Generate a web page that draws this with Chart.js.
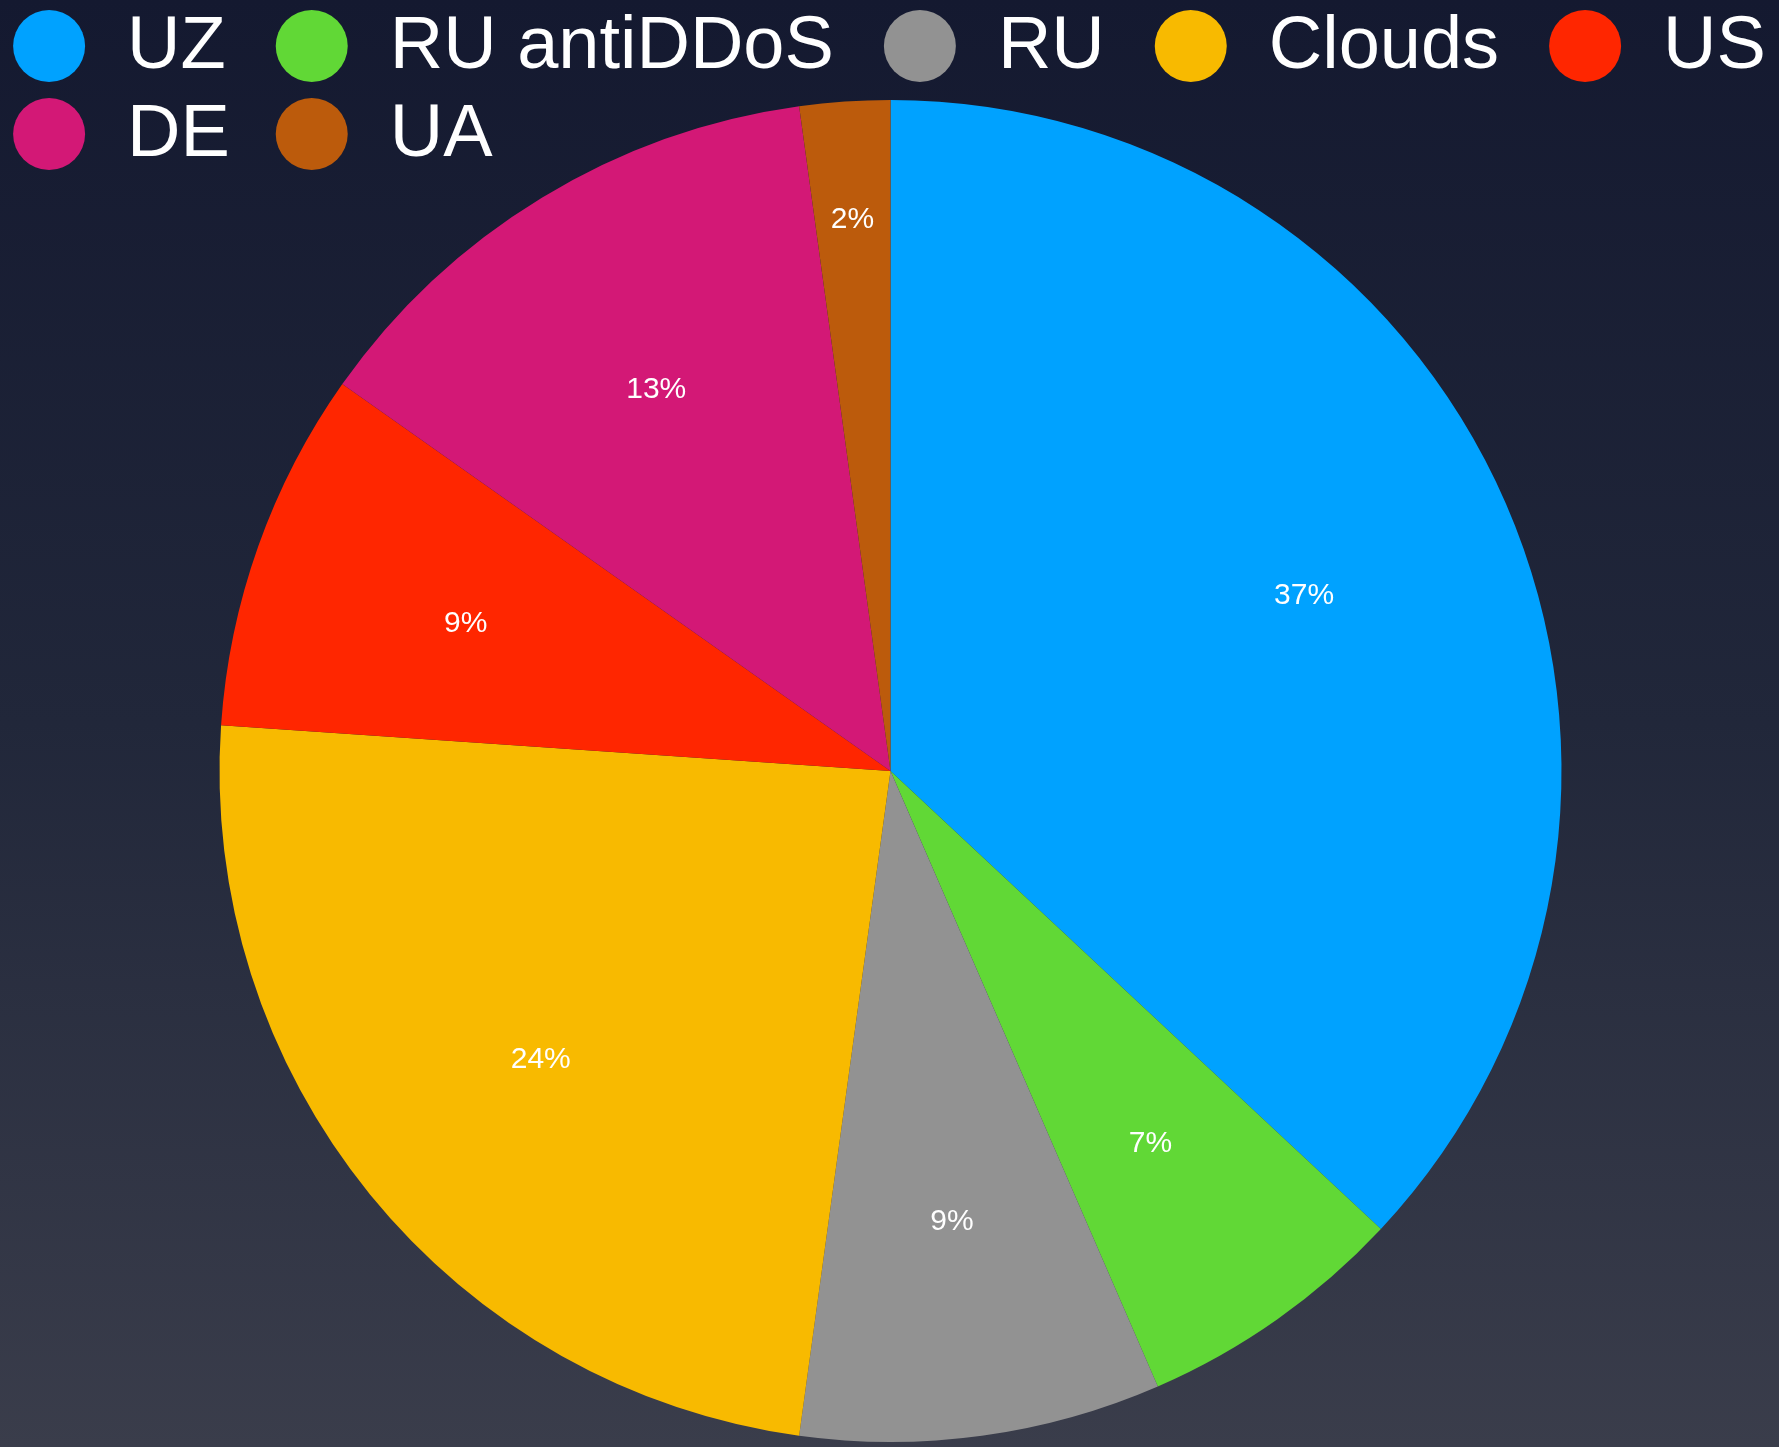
<!DOCTYPE html>
<html>
<head>
<meta charset="utf-8">
<title>Hosting locations</title>
<script src="https://cdn.jsdelivr.net/npm/chart.js@4"></script>
<style>
  html, body { margin: 0; padding: 0; background: #141930; }
  canvas { display: block; }
</style>
</head>
<body>
<canvas id="pie" width="1779" height="1447"></canvas>
<script>
// Where the sites are hosted (number of sites per location)
const categories = ['UZ', 'RU antiDDoS', 'RU', 'Clouds', 'US', 'DE', 'UA'];
const siteCounts = [17, 3, 4, 11, 4, 6, 1];
const sliceColors = ['#00a2ff', '#61d836', '#929292', '#f8ba00', '#ff2600', '#d31876', '#bc5b0c'];
const legendRows = [['UZ', 'RU antiDDoS', 'RU', 'Clouds', 'US'], ['DE', 'UA']];

const FONT = '"Liberation Sans", Arial, Helvetica, sans-serif';

// Dark vertical gradient behind everything
const backdrop = {
  id: 'backdrop',
  beforeDraw(chart) {
    const { ctx, width, height } = chart;
    const g = ctx.createLinearGradient(0, 0, 0, height);
    g.addColorStop(0, '#141930');
    g.addColorStop(0.5, '#21273a');
    g.addColorStop(1, '#3a3d4b');
    ctx.save();
    ctx.fillStyle = g;
    ctx.fillRect(0, 0, width, height);
    ctx.restore();
  }
};

// Legend: round swatches with large labels; the second row reuses the first row's columns
const bigLegend = {
  id: 'bigLegend',
  afterDraw(chart) {
    const { ctx, width } = chart;
    const fontSize = 74, dot = 72, textGap = 42, itemGap = 50, rowStep = 88, firstRowY = 46;
    ctx.save();
    ctx.font = fontSize + 'px ' + FONT;
    ctx.textBaseline = 'middle';
    ctx.textAlign = 'left';
    const itemWidth = name => dot + textGap + ctx.measureText(name).width;
    const first = legendRows[0];
    const total = first.reduce((s, n) => s + itemWidth(n), 0) + itemGap * (first.length - 1);
    const columns = [];
    let x = (width - total) / 2;
    first.forEach(name => { columns.push(x); x += itemWidth(name) + itemGap; });
    legendRows.forEach((row, r) => {
      const y = firstRowY + r * rowStep;
      row.forEach((name, c) => {
        const cx = columns[c];
        ctx.fillStyle = sliceColors[categories.indexOf(name)];
        ctx.beginPath();
        ctx.arc(cx + dot / 2, y, dot / 2, 0, Math.PI * 2);
        ctx.fill();
        ctx.fillStyle = '#ffffff';
        ctx.fillText(name, cx + dot + textGap, y + 2);
      });
    });
    ctx.restore();
  }
};

// Percentage labels inside each slice
const sliceLabels = {
  id: 'sliceLabels',
  afterDatasetsDraw(chart) {
    const { ctx } = chart;
    const data = chart.data.datasets[0].data;
    const total = data.reduce((a, b) => a + b, 0);
    ctx.save();
    ctx.font = '30px ' + FONT;
    ctx.fillStyle = '#ffffff';
    ctx.textAlign = 'center';
    ctx.textBaseline = 'middle';
    chart.getDatasetMeta(0).data.forEach((arc, i) => {
      const p = arc.getProps(['x', 'y', 'startAngle', 'endAngle', 'outerRadius'], true);
      const share = data[i] / total;
      const mid = (p.startAngle + p.endAngle) / 2;
      const r = p.outerRadius * (share < 0.05 ? 0.83 : 0.672);
      ctx.fillText(Math.round(share * 100) + '%', p.x + Math.cos(mid) * r, p.y + Math.sin(mid) * r + 4);
    });
    ctx.restore();
  }
};

new Chart(document.getElementById('pie'), {
  type: 'pie',
  data: {
    labels: categories,
    datasets: [{
      data: siteCounts,
      backgroundColor: sliceColors,
      borderWidth: 0
    }]
  },
  options: {
    responsive: false,
    devicePixelRatio: 1,
    animation: false,
    layout: { padding: { top: 100, bottom: 5, left: 2, right: 0 } },
    plugins: {
      legend: { display: false },
      tooltip: { enabled: false }
    }
  },
  plugins: [backdrop, sliceLabels, bigLegend]
});
</script>
</body>
</html>
